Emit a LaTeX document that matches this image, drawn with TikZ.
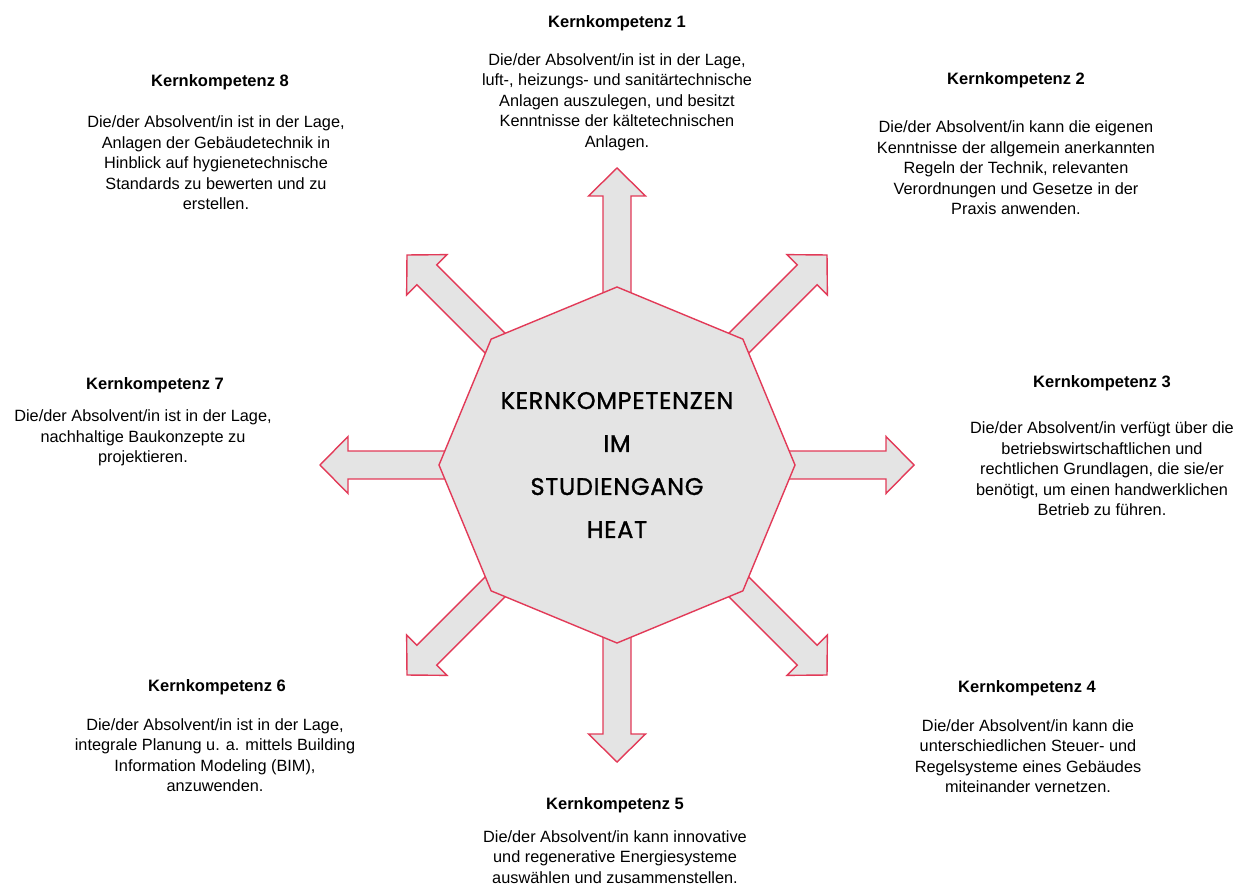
\documentclass[tikz,border=0pt]{standalone}
\usepackage{fontspec}
\setmainfont{Liberation Sans}
\newfontfamily\corefont{Poppins}[LetterSpace=3, FakeBold=1.2]
\definecolor{heatred}{RGB}{226,58,88}
\definecolor{heatgray}{RGB}{228,228,228}
\begin{document}
\begin{tikzpicture}[x=1pt, y=-1pt,
  blockarrow/.style={draw=heatred, fill=heatgray, line width=1.4pt, line join=miter},
  kktitle/.style={font=\fontsize{16.5}{20}\selectfont\bfseries, inner sep=0},
  kktext/.style={font=\fontsize{16.3}{20.5}\selectfont, align=center, inner sep=0}]
  \useasboundingbox (0,0) rectangle (1247,885);
  \coordinate (mid) at (617,465);
  \foreach \a in {0,45,...,315}
    \draw[blockarrow, shift={(mid)}, rotate=\a] (0,-14) -- (269,-14) -- (269,-28.5) -- (297,0) -- (269,28.5) -- (269,14) -- (0,14) -- cycle;
  \draw[blockarrow, shift={(mid)}] (0:178) -- (45:178) -- (90:178) -- (135:178) -- (180:178) -- (225:178) -- (270:178) -- (315:178) -- cycle;
  \node[font=\corefont\fontsize{24}{43}\selectfont, align=center] (core) at (mid) {KERNKOMPETENZEN\\IM\\STUDIENGANG\\HEAT};
  \node[kktitle] (kk1t) at (617,23) {Kernkompetenz 1};
  \node[kktext] (kk1) at (617,102) {Die/der Absolvent/in ist in der Lage,\\luft-, heizungs- und sanitärtechnische\\Anlagen auszulegen, und besitzt\\Kenntnisse der kältetechnischen\\Anlagen.};
  \node[kktitle] (kk2t) at (1016,80) {Kernkompetenz 2};
  \node[kktext] (kk2) at (1016,168) {Die/der Absolvent/in kann die eigenen\\Kenntnisse der allgemein anerkannten\\Regeln der Technik, relevanten\\Verordnungen und Gesetze in der\\Praxis anwenden.};
  \node[kktitle] (kk3t) at (1102,383) {Kernkompetenz 3};
  \node[kktext] (kk3) at (1102,469) {Die/der Absolvent/in verfügt über die\\betriebswirtschaftlichen und\\rechtlichen Grundlagen, die sie/er\\benötigt, um einen handwerklichen\\Betrieb zu führen.};
  \node[kktitle] (kk4t) at (1027,688) {Kernkompetenz 4};
  \node[kktext] (kk4) at (1028,756) {Die/der Absolvent/in kann die\\unterschiedlichen Steuer- und\\Regelsysteme eines Gebäudes\\miteinander vernetzen.};
  \node[kktitle] (kk5t) at (615,805) {Kernkompetenz 5};
  \node[kktext] (kk5) at (615,857) {Die/der Absolvent/in kann innovative\\und regenerative Energiesysteme\\auswählen und zusammenstellen.};
  \node[kktitle] (kk6t) at (217,687) {Kernkompetenz 6};
  \node[kktext] (kk6) at (215,755) {Die/der Absolvent/in ist in der Lage,\\integrale Planung u. a. mittels Building\\Information Modeling (BIM),\\anzuwenden.};
  \node[kktitle] (kk7t) at (155,385) {Kernkompetenz 7};
  \node[kktext] (kk7) at (143,438) {Die/der Absolvent/in ist in der Lage,\\nachhaltige Baukonzepte zu\\projektieren.};
  \node[kktitle] (kk8t) at (220,82) {Kernkompetenz 8};
  \node[kktext] (kk8) at (216,163) {Die/der Absolvent/in ist in der Lage,\\Anlagen der Gebäudetechnik in\\Hinblick auf hygienetechnische\\Standards zu bewerten und zu\\erstellen.};
\end{tikzpicture}
\end{document}
